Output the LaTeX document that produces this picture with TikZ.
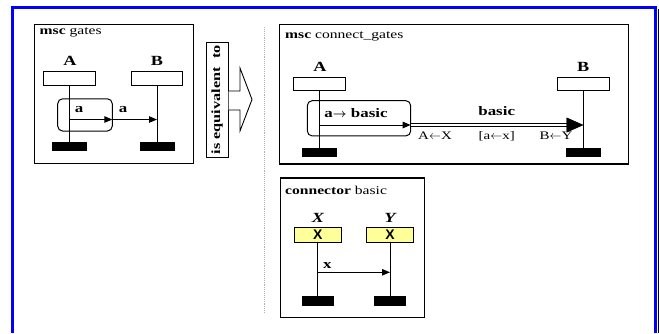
\documentclass[tikz,border=0pt]{standalone}
\usepackage{fontspec}
\setmainfont[FakeStretch=1.3]{Liberation Serif}
\newfontfamily\gatefont{Liberation Sans}
\usetikzlibrary{arrows.meta}
\definecolor{headyellow}{HTML}{FFFF99}
\definecolor{framecol}{HTML}{0000FF}
\begin{document}
\begin{tikzpicture}[x=1pt,y=-1pt,
  diagbox/.style={draw, line width=1.2pt, inner sep=0pt, anchor=north west},
  boxtitle/.style={anchor=west, inner sep=0pt, font=\fontsize{12}{13}\selectfont},
  instname/.style={inner sep=0pt, font=\fontsize{14}{15}\selectfont\bfseries},
  head/.style={draw, fill=white, line width=0.9pt, inner sep=0pt, minimum height=14pt},
  yhead/.style={head, fill=headyellow},
  endbar/.style={fill=black, inner sep=0pt, minimum height=9pt},
  life/.style={line width=1pt},
  gatebox/.style={draw, line width=1pt, rounded corners=5pt, inner sep=0pt},
  msg/.style={line width=0.9pt, -{Triangle[length=8pt,width=6.5pt]}},
  msglabel/.style={inner sep=0pt, font=\fontsize{13}{14}\selectfont\bfseries},
  sublabel/.style={inner sep=0pt, font=\fontsize{11.5}{12}\selectfont},
  gatemark/.style={font=\gatefont\fontsize{14}{14}\selectfont\bfseries},
  dbl/.style={double, double distance=1.6pt, line width=1pt},
]
\useasboundingbox (0,0) rectangle (659,333);

% outer blue frame with its thin shadow on the right
\coordinate (fbl) at (12.5,333);
\coordinate (ftl) at (12.5,7.5);
\coordinate (ftr) at (655.5,7.5);
\coordinate (fbr) at (655.5,333);
\draw[framecol, line width=2.2pt] (fbl) -- (ftl) -- (ftr) -- (fbr);
\coordinate (sht) at (658,9);
\coordinate (shb) at (658,333);
\draw[line width=0.9pt] (sht) -- (shb);

% ---------- msc gates ----------
\node[diagbox, minimum width=159pt, minimum height=139pt] (gates) at (33.5,24) {};
\node[boxtitle] (gatesT) at (39.5,32.5) {\textbf{msc} gates};
\node[instname] (lA) at (70,61) {A};
\node[instname] (lB) at (157,61) {B};
\node[head, minimum width=52pt] (hA) at (69.5,78.5) {};
\node[head, minimum width=51pt] (hB) at (157,78.5) {};
\node[endbar, minimum width=35.5pt] (eA) at (69.5,146.5) {};
\node[endbar, minimum width=35pt] (eB) at (157,146.5) {};
\draw[life] (hA.south) -- (eA.north);
\draw[life] (hB.south) -- (eB.north);
\node[gatebox, minimum width=54.6pt, minimum height=32.3pt] (gA) at (85,114.9) {};
\coordinate (g1) at (112.3,119.5);
\draw[msg] (hA.south |- g1) -- (g1);
\draw[msg] (g1) -- (hB.south |- g1);
\node[msglabel] (m1) at (79,109.5) {a};
\node[msglabel] (m2) at (123,109.5) {a};

% ---------- "is equivalent to" with block arrow ----------
\node[draw, line width=1pt, fill=white, rotate=90, minimum width=115.5pt,
      minimum height=22pt, inner sep=0pt,
      font=\fontsize{12.5}{13}\selectfont\bfseries] (equiv) at (217,99.8) {is equivalent\ \ to};
\coordinate (ar1) at (equiv.south |- 0,91);
\coordinate (ar7) at (equiv.south |- 0,110);
\draw[line width=0.9pt, fill=white] (ar1) -- (240,91) -- (240,68) -- (252,99.5)
  -- (240,131) -- (240,110) -- (ar7);

% dotted separator
\coordinate (sepT) at (264,27);
\coordinate (sepB) at (264,313);
\draw[gray!60, line width=0.9pt, densely dotted] (sepT) -- (sepB);

% ---------- msc connect_gates ----------
\node[diagbox, minimum width=348.7pt, minimum height=139.3pt] (cg) at (279,24) {};
\node[boxtitle] (cgT) at (285,36) {\textbf{msc} connect\_gates};
\node[instname] (lA2) at (320,67) {A};
\node[instname] (lB2) at (583.3,67) {B};
\node[head, minimum width=51.7pt, minimum height=13.4pt] (hA2) at (319.2,84) {};
\node[head, minimum width=51.6pt, minimum height=13.4pt] (hB2) at (583.5,84) {};
\node[endbar, minimum width=35pt] (eA2) at (319.2,152.2) {};
\node[endbar, minimum width=35pt] (eB2) at (583.5,152.2) {};
\draw[life] (hA2.south) -- (eA2.north);
\draw[life] (hB2.south) -- (eB2.north);
\node[gatebox, minimum width=103.4pt, minimum height=35.3pt] (gA2) at (359,118.3) {};
\coordinate (g2) at (410.7,125);
\coordinate (tipB) at (hB2.south |- g2);
\draw[msg] (hA2.south |- g2) -- (g2);
\draw[dbl, shorten >=15pt] (g2) -- (tipB);
\draw[-{Triangle[length=17pt,width=15pt]}] ([xshift=-17pt]tipB) -- (tipB);
\node[msglabel] (m3) at (356,113) {a{\boldmath$\rightarrow$} basic};
\node[msglabel] (m4) at (496.7,111.5) {basic};
\node[sublabel] (s1) at (435,136) {A$\leftarrow$X};
\node[sublabel] (s2) at (496.7,136) {[a$\leftarrow$x]};
\node[sublabel] (s3) at (556,136) {B$\leftarrow$Y};

% ---------- connector basic ----------
\node[diagbox, minimum width=144pt, minimum height=139.4pt] (cb) at (280,177.3) {};
\node[boxtitle] (cbT) at (285,190) {\textbf{connector} basic};
\node[instname, font=\fontsize{14}{15}\selectfont\bfseries\itshape] (lX) at (318,217.7) {X};
\node[instname, font=\fontsize{14}{15}\selectfont\bfseries\itshape] (lY) at (390,217.7) {Y};
\node[yhead, gatemark, minimum width=47.7pt, minimum height=14.6pt] (hX) at (317.9,235) {X};
\node[yhead, gatemark, minimum width=46.6pt, minimum height=14.6pt] (hY) at (390,235) {X};
\node[endbar, minimum width=32.3pt, minimum height=9.7pt] (eX) at (317.9,300.9) {};
\node[endbar, minimum width=32pt, minimum height=9.7pt] (eY) at (390,300.9) {};
\draw[life] (hX.south) -- (eX.north);
\draw[life] (hY.south) -- (eY.north);
\coordinate (xm) at (0,272.3);
\draw[msg] (hX.south |- xm) -- (hY.south |- xm);
\node[msglabel] (m5) at (327.3,265.5) {x};
\end{tikzpicture}
\end{document}
